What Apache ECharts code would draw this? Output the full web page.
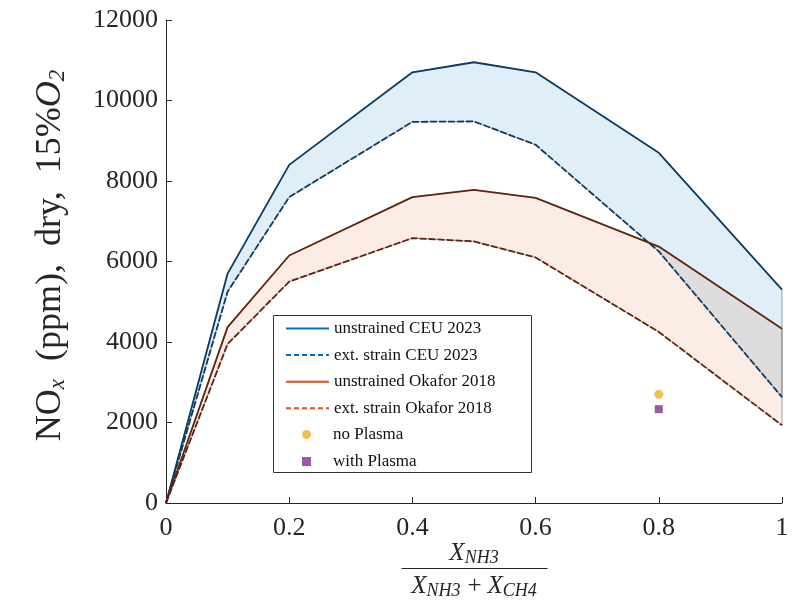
<!DOCTYPE html>
<html>
<head>
<meta charset="utf-8">
<script src="https://cdn.jsdelivr.net/npm/echarts@6/dist/echarts.min.js"></script>
<style>
html, body { margin: 0; padding: 0; background: #fff; }
#main { width: 812px; height: 607px; }
</style>
</head>
<body>
<div id="main"></div>
<script>
// x = X_NH3 / (X_NH3 + X_CH4)
const xVals = [0, 0.1, 0.2, 0.4, 0.5, 0.6, 0.8, 1.0];
const ceuUnstrained = [0, 5700, 8400, 10700, 10950, 10700, 8700, 5300];
const ceuStrained = [0, 5250, 7600, 9470, 9480, 8900, 6250, 2630];
const okaforUnstrained = [0, 4370, 6150, 7600, 7780, 7580, 6370, 4330];
const okaforStrained = [0, 3950, 5500, 6580, 6500, 6100, 4250, 1930];
const noPlasma = [[0.8, 2700]];
const withPlasma = [[0.8, 2330]];

const serif = '"Liberation Serif", "DejaVu Serif", serif';
const txt = '#262626';

function pairs(ys) {
	return xVals.map(function (x, i) { return [x, ys[i]]; });
}

// 填充带：上下两条曲线之间
function band(upper, lower, fill) {
	return {
		type: 'custom',
		silent: true,
		z: 1,
		data: [0],
		renderItem: function (params, api) {
			let pts = [];
			for (let i = 0; i < xVals.length; i++) pts.push(api.coord([xVals[i], upper[i]]));
			for (let i = xVals.length - 1; i >= 0; i--) pts.push(api.coord([xVals[i], lower[i]]));
			return {
				type: 'polygon',
				shape: { points: pts },
				style: { fill: fill, stroke: '#666', lineWidth: 0.6 }
			};
		}
	};
}

function line(name, ys, color, dashed) {
	return {
		name: name,
		type: 'line',
		data: pairs(ys),
		symbol: 'none',
		z: 3,
		itemStyle: { color: color },
		lineStyle: { color: color, width: 1.8, type: dashed ? [7, 2] : 'solid' }
	};
}

function legendLine(name, color, dashed) {
	return {
		name: name,
		itemStyle: { color: 'rgba(0,0,0,0)', borderWidth: 0, opacity: 0 },
		lineStyle: { color: color, type: dashed ? [5, 3] : 'solid', width: 2 }
	};
}

const sub = { font: 'italic 18px "Liberation Serif"', fill: txt, padding: [10, 1, 0, 0] };
const ital = { font: 'italic 25px "Liberation Serif"', fill: txt };
const plus = { font: '25px "Liberation Serif"', fill: txt, padding: [0, 6, 0, 6] };

let myChart = echarts.init(document.getElementById('main'));
let option = {
	animation: false,
	backgroundColor: '#fff',
	grid: { left: 166, right: 30, top: 20, bottom: 104 },
	xAxis: {
		type: 'value',
		min: 0, max: 1, interval: 0.2,
		axisLine: { lineStyle: { color: txt, width: 1 } },
		axisTick: { inside: true, length: 6, lineStyle: { color: txt } },
		axisLabel: {
			color: txt, fontFamily: serif, fontSize: 26, margin: 12,
			formatter: function (v) { return String(Math.round(v * 10) / 10); }
		},
		splitLine: { show: false }
	},
	yAxis: {
		type: 'value',
		min: 0, max: 12000, interval: 2000,
		axisLine: { show: true, lineStyle: { color: txt, width: 1 } },
		axisTick: { show: true, inside: true, length: 6, lineStyle: { color: txt } },
		axisLabel: {
			color: txt, fontFamily: serif, fontSize: 26, margin: 8,
			formatter: function (v) { return String(v); }
		},
		splitLine: { show: false },
		name: 'NO{sub|x}  (ppm),  dry,  15%{it|O}{sub|2}',
		nameLocation: 'middle',
		nameGap: 97,
		nameRotate: 90,
		nameTextStyle: {
			color: txt, fontFamily: serif, fontSize: 36,
			padding: [0, 0, 0, 12],
			rich: {
				sub: { fontFamily: serif, fontSize: 23, fontStyle: 'italic', color: txt, verticalAlign: 'bottom', padding: [14, 0, 0, 0] },
				it: { fontFamily: serif, fontSize: 36, fontStyle: 'italic', color: txt }
			}
		}
	},
	legend: [
		{
			orient: 'vertical',
			left: 280, top: 315,
			itemWidth: 43, itemHeight: 16, itemGap: 9.6,
			textStyle: { fontFamily: serif, fontSize: 17, color: '#111' },
			data: [
				legendLine('unstrained CEU 2023', '#0072BD', false),
				legendLine('ext. strain CEU 2023', '#0072BD', true),
				legendLine('unstrained Okafor 2018', '#D95319', false),
				legendLine('ext. strain Okafor 2018', '#D95319', true)
			]
		},
		{
			orient: 'vertical',
			left: 297, top: 421,
			itemWidth: 9, itemHeight: 9, itemGap: 10,
			textStyle: { fontFamily: serif, fontSize: 17, color: '#111', padding: [0, 0, 0, 17] },
			data: [
				{ name: 'no Plasma', icon: 'circle', itemStyle: { color: '#EDB120' } },
				{ name: 'with Plasma', icon: 'rect', itemStyle: { color: '#7E2F8E' } }
			]
		}
	],
	graphic: [
		{
			type: 'rect', z: 0, silent: true,
			shape: { x: 273.5, y: 315.5, width: 258, height: 157 },
			style: { fill: '#fff', stroke: '#333', lineWidth: 1 }
		},
		{
			type: 'group', left: 399, top: 541,
			children: [
				{ type: 'text', x: 73, y: 0, style: { text: '{i|X}{s|NH3}', align: 'center', rich: { i: ital, s: sub } } },
				{ type: 'line', shape: { x1: 0, y1: 29, x2: 146, y2: 29 }, style: { stroke: txt, lineWidth: 1 } },
				{ type: 'text', x: 73, y: 33, style: { text: '{i|X}{s|NH3}{p|+}{i|X}{s|CH4}', align: 'center', rich: { i: ital, s: sub, p: plus } } }
			]
		}
	],
	series: [
		band(ceuUnstrained, ceuStrained, 'rgba(0,114,189,0.12)'),
		band(okaforUnstrained, okaforStrained, 'rgba(217,83,25,0.11)'),
		line('unstrained CEU 2023', ceuUnstrained, '#0d3b63', false),
		line('ext. strain CEU 2023', ceuStrained, '#0d3b63', true),
		line('unstrained Okafor 2018', okaforUnstrained, '#5e2410', false),
		line('ext. strain Okafor 2018', okaforStrained, '#5e2410', true),
		{
			name: 'no Plasma', type: 'scatter', data: noPlasma, z: 4,
			symbol: 'circle', symbolSize: 9, itemStyle: { color: '#EDB120' }
		},
		{
			name: 'with Plasma', type: 'scatter', data: withPlasma, z: 4,
			symbol: 'rect', symbolSize: 8, itemStyle: { color: '#7E2F8E' }
		}
	]
};
myChart.setOption(option, true);
window.addEventListener('resize', function () { myChart.resize(); });
</script>
</body>
</html>
